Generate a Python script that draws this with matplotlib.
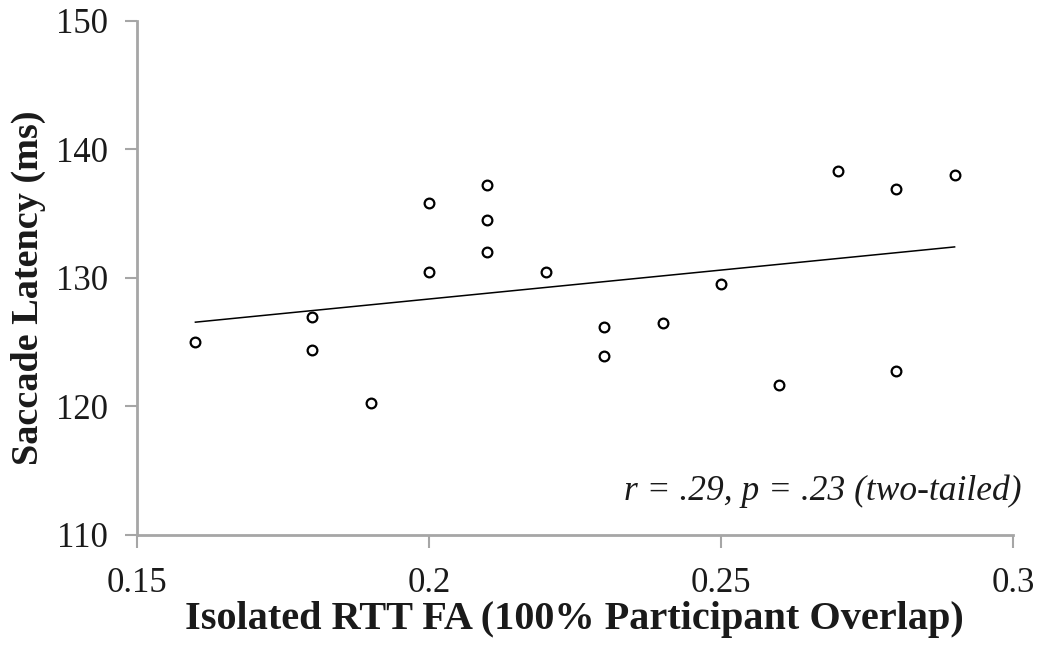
import numpy as np
import matplotlib
matplotlib.use("Agg")
import matplotlib.pyplot as plt

# Data
fa_values = [0.16, 0.18, 0.18, 0.19, 0.20, 0.20, 0.21, 0.21, 0.21, 0.22,
             0.23, 0.23, 0.24, 0.25, 0.26, 0.27, 0.28, 0.28, 0.29]
latency_values = [125.0, 127.0, 124.4, 120.3, 135.8, 130.5, 137.2, 134.5, 132.0, 130.5,
                  126.2, 123.9, 126.5, 129.5, 121.7, 138.3, 136.9, 122.8, 138.0]
x_ticks = [0.15, 0.2, 0.25, 0.3]
x_tick_labels = ["0.15", "0.2", "0.25", "0.3"]
y_ticks = [110, 120, 130, 140, 150]
x_label = "Isolated RTT FA (100% Participant Overlap)"
y_label = "Saccade Latency (ms)"
annotation = "r = .29, p = .23 (two-tailed)"

plt.rcParams['font.family'] = ['Liberation Serif', 'DejaVu Serif']

W, H = 1038, 655
fig = plt.figure(figsize=(W/100, H/100), dpi=100)
ax = fig.add_axes([137/W, 120/H, 876/W, 514/H])

x = np.array(fa_values)
y = np.array(latency_values)
slope, intercept = np.polyfit(x, y, 1)
xl = np.array([x.min(), x.max()])
ax.plot(xl, slope*xl + intercept, color='black', lw=1.1, zorder=2)

ax.plot(x, y, linestyle='none', marker='o', markersize=7,
        markerfacecolor='white', markeredgecolor='black', markeredgewidth=1.6, zorder=3)

ax.set_xlim(0.15, 0.3)
ax.set_ylim(110, 150)
ax.set_xticks(x_ticks)
ax.set_xticklabels(x_tick_labels)
ax.set_yticks(y_ticks)

gray = '#a6a6a6'
for s in ['top', 'right']:
    ax.spines[s].set_visible(False)
for s in ['left', 'bottom']:
    ax.spines[s].set_color(gray)
    ax.spines[s].set_linewidth(2)
ax.tick_params(axis='both', colors=gray, length=9, width=1.5, labelsize=25,
               labelcolor='#1a1a1a', direction='out')
ax.tick_params(axis='x', pad=14)
ax.tick_params(axis='y', pad=12)

fig.text(574/W, 1 - 620/H, x_label, fontsize=29, fontweight='bold', color='#1a1a1a',
         ha='center', va='center')
fig.text(28/W, 1 - 288/H, y_label, fontsize=27.5, fontweight='bold', color='#1a1a1a',
         ha='center', va='center', rotation=90)

fig.text(1022/W, 1 - 491/H, annotation, ha='right', va='center',
         fontsize=25.5, style='italic', color='#1a1a1a')

fig.savefig('out.png', dpi=100)
